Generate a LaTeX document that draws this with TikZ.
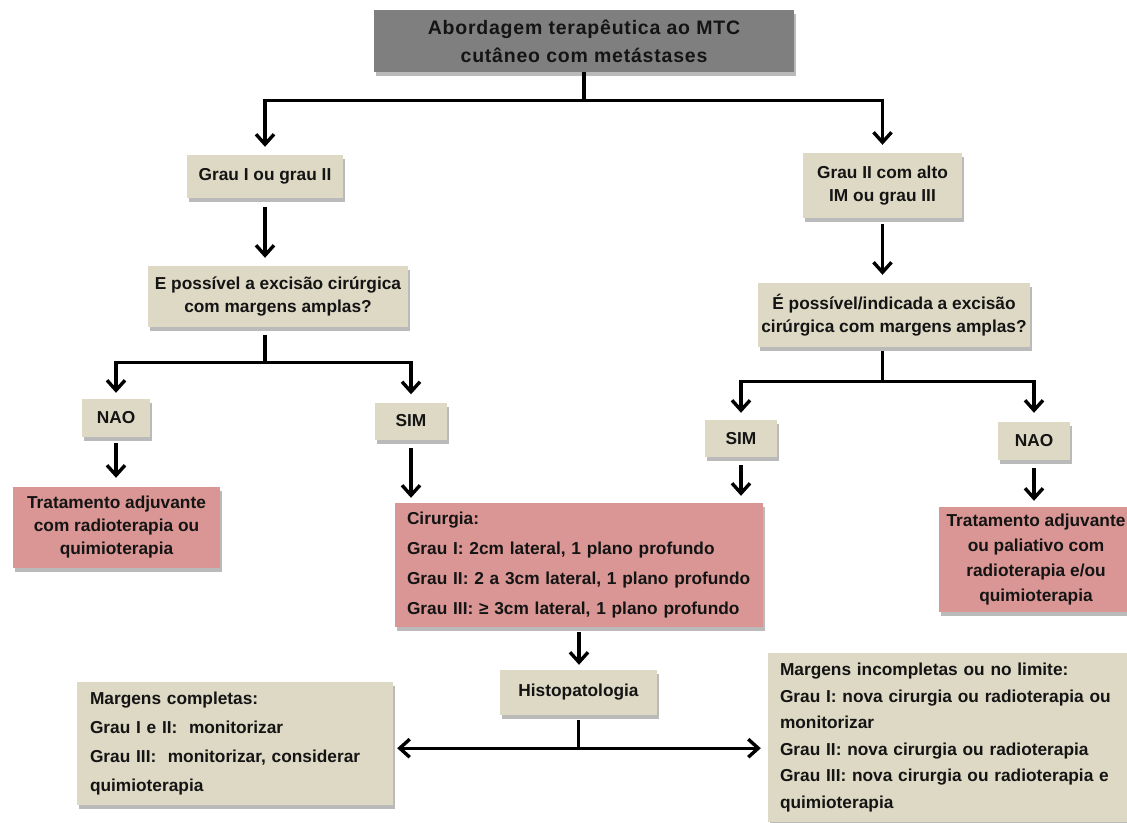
\documentclass[tikz,border=0pt]{standalone}
\usepackage{fontspec}
\setmainfont{Liberation Sans}
\newfontfamily\titlefont{Liberation Sans}[LetterSpace=4]
\usetikzlibrary{arrows.meta,shadows}
\definecolor{beige}{HTML}{DDD9C4}
\definecolor{rosy}{HTML}{D99694}
\definecolor{titlegray}{HTML}{7F7F7F}
\definecolor{txt}{HTML}{141414}
\tikzset{
  box/.style={draw=none, inner sep=0pt, text=txt, align=center,
    font=\bfseries\fontsize{17.3}{23}\selectfont,
    drop shadow={shadow xshift=1.5pt, shadow yshift=-4pt, opacity=0.45, fill=black!60}},
  tanbox/.style={box, fill=beige},
  redbox/.style={box, fill=rosy},
  titlebox/.style={box, fill=titlegray, font=\titlefont\bfseries\fontsize{19.5}{28}\selectfont},
  listbox/.style={align=left, inner xsep=12pt},
  conn/.style={line width=3.4pt, draw=black},
  arr/.style={conn, -{Straight Barb[length=10pt,width=18pt]}},
}
\begin{document}
\begin{tikzpicture}[x=1pt,y=-1pt]
\useasboundingbox (0,0) rectangle (1127,822);
\clip (0,0) rectangle (1127,822);

\node[titlebox, minimum width=420pt, minimum height=62pt] (title) at (584,41)
  {Abordagem terapêutica ao MTC\\cutâneo com metástases};

\node[tanbox, minimum width=156pt, minimum height=43pt] (g12) at (265,176.5) {Grau I ou grau II};
\node[tanbox, minimum width=260pt, minimum height=61pt] (q1) at (278,296.5)
  {E possível a excisão cirúrgica\\com margens amplas?};
\node[tanbox, minimum width=68pt, minimum height=38pt] (nao1) at (116,418) {NAO};
\node[tanbox, minimum width=72pt, minimum height=37pt] (sim1) at (411,421) {SIM};
\node[redbox, minimum width=207pt, minimum height=81pt] (trat1) at (116.5,527.5)
  {Tratamento adjuvante\\com radioterapia ou\\quimioterapia};

\node[redbox, listbox, text width=344pt, minimum height=124pt,
  font=\bfseries\fontsize{17.3}{30}\selectfont] (cir) at (579,565)
  {Cirurgia:\\Grau I: 2cm lateral, 1 plano profundo\\Grau II: 2 a 3cm lateral, 1 plano profundo\\Grau III: ≥ 3cm lateral, 1 plano profundo};

\node[tanbox, minimum width=159pt, minimum height=65pt] (g23) at (882.5,185.5)
  {Grau II com alto\\IM ou grau III};
\node[tanbox, minimum width=272pt, minimum height=64pt] (q2) at (894,315)
  {É possível/indicada a excisão\\cirúrgica com margens amplas?};
\node[tanbox, minimum width=72pt, minimum height=37pt] (sim2) at (741,438.5) {SIM};
\node[tanbox, minimum width=72pt, minimum height=38pt] (nao2) at (1034,441) {NAO};
\node[redbox, minimum width=194pt, minimum height=105pt,
  font=\bfseries\fontsize{17.3}{25}\selectfont] (trat2) at (1036,559.5)
  {Tratamento adjuvante\\ou paliativo com\\radioterapia e/ou\\quimioterapia};

\node[tanbox, minimum width=157pt, minimum height=45pt] (histo) at (578.5,692.5) {Histopatologia};

\node[tanbox, listbox, inner xsep=13pt, text width=290pt, minimum height=123pt,
  font=\bfseries\fontsize{17.3}{29}\selectfont] (mc) at (235,743.5)
  {Margens completas:\\Grau I e II:\ \ monitorizar\\Grau III:\ \ monitorizar, considerar\\quimioterapia};
\node[tanbox, listbox, text width=348pt, minimum height=169pt,
  font=\bfseries\fontsize{17.3}{26.5}\selectfont] (mi) at (954,737.5)
  {Margens incompletas ou no limite:\\Grau I: nova cirurgia ou radioterapia ou\\monitorizar\\Grau II: nova cirurgia ou radioterapia\\Grau III: nova cirurgia ou radioterapia e\\quimioterapia};

% connectors
\draw[conn] (title.south) -- ++(0,28) coordinate (j0);
\draw[arr, shorten >=8pt] (j0) -| (g12.north);
\draw[arr, shorten >=8pt] (j0) -| (g23.north);
\draw[arr, shorten <=9pt, shorten >=8pt] (g12.south) -- (q1.north -| g12);
\draw[conn, shorten <=8pt] (q1.south -| g12) -- ++(0,35) coordinate (j1);
\draw[arr, shorten >=6pt] (j1) -| (nao1.north);
\draw[arr, shorten >=8pt] (j1) -| (sim1.north);
\draw[arr, shorten <=6pt, shorten >=9pt] (nao1.south) -- (trat1.north -| nao1);
\draw[arr, shorten <=8pt, shorten >=5pt] (sim1.south) -- (cir.north -| sim1);
\draw[arr, shorten <=6pt, shorten >=8pt] (g23.south) -- (q2.north -| g23);
\draw[conn, shorten <=4pt] (q2.south -| g23) -- ++(0,34) coordinate (j2);
\draw[arr, shorten >=7pt] (j2) -| (sim2.north);
\draw[arr, shorten >=9pt] (j2) -| (nao2.north);
\draw[arr, shorten <=8pt, shorten >=7pt] (sim2.south) -- (cir.north -| sim2);
\draw[arr, shorten <=8pt, shorten >=6pt] (nao2.south) -- (trat2.north -| nao2);
\draw[arr, shorten <=5pt, shorten >=5pt] (cir.south) -- (histo.north -| cir);
\draw[conn, shorten <=5pt] (histo.south) -- ++(0,33) coordinate (j3);
\draw[arr, shorten >=4pt] (j3) -- (j3 -| mc.east);
\draw[arr, shorten >=7pt] (j3) -- (j3 -| mi.west);
\end{tikzpicture}
\end{document}
